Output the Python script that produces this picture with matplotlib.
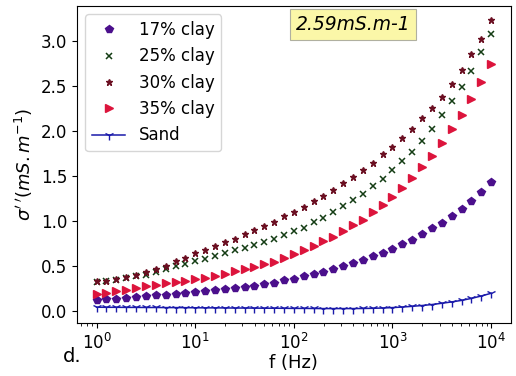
import numpy as np
import matplotlib
matplotlib.use("Agg")
import matplotlib.pyplot as plt

freq_exp_min, freq_exp_max, n_pts = 0, 4, 41
f = np.logspace(freq_exp_min, freq_exp_max, n_pts)

clay17 = [0.115, 0.123, 0.134, 0.141, 0.149, 0.162, 0.169, 0.177, 0.186, 0.193, 0.203,
          0.22, 0.23, 0.241, 0.253, 0.262, 0.271, 0.29, 0.305, 0.335, 0.355, 0.383,
          0.409, 0.431, 0.461, 0.492, 0.528, 0.56, 0.602, 0.643, 0.686, 0.736,
          0.788, 0.848, 0.913, 0.979, 1.052, 1.13, 1.219, 1.317, 1.428]
clay25 = [0.32, 0.33, 0.345, 0.36, 0.38, 0.40, 0.43, 0.46, 0.495, 0.52, 0.55,
          0.578, 0.605, 0.639, 0.668, 0.697, 0.729, 0.764, 0.792, 0.838, 0.881,
          0.922, 0.981, 1.033, 1.093, 1.16, 1.229, 1.301, 1.383, 1.468, 1.561,
          1.662, 1.766, 1.888, 2.015, 2.169, 2.328, 2.483, 2.669, 2.87, 3.078]
clay30 = [0.327, 0.334, 0.35, 0.37, 0.40, 0.43, 0.46, 0.50, 0.55, 0.587, 0.635,
          0.669, 0.714, 0.757, 0.801, 0.848, 0.892, 0.942, 0.99, 1.048, 1.095,
          1.152, 1.219, 1.279, 1.346, 1.413, 1.484, 1.561, 1.645, 1.736, 1.822,
          1.914, 2.019, 2.14, 2.253, 2.379, 2.52, 2.676, 2.855, 3.019, 3.226]
clay35 = [0.186, 0.197, 0.215, 0.230, 0.249, 0.268, 0.283, 0.301, 0.312, 0.327, 0.346,
          0.360, 0.379, 0.409, 0.435, 0.457, 0.483, 0.513, 0.543, 0.587, 0.632, 0.677,
          0.718, 0.773, 0.822, 0.88, 0.946, 1.011, 1.093, 1.173, 1.267, 1.364,
          1.47, 1.595, 1.72, 1.859, 2.015, 2.175, 2.352, 2.546, 2.74]
sand = [0.037, 0.036, 0.036, 0.035, 0.035, 0.034, 0.034, 0.033, 0.033, 0.032,
        0.031, 0.030, 0.030, 0.029, 0.028, 0.028, 0.027, 0.026, 0.026, 0.025,
        0.024, 0.024, 0.023, 0.022, 0.022, 0.022, 0.022, 0.023, 0.025, 0.028,
        0.033, 0.039, 0.047, 0.056, 0.067, 0.081, 0.096, 0.113, 0.135, 0.162, 0.192]

labels = ["17% clay", "25% clay", "30% clay", "35% clay", "Sand"]
annotation = "2.59mS.m-1"

fig = plt.figure(figsize=(5.16, 3.76), dpi=100)
ax = fig.add_axes([0.149, 0.141, 0.841, 0.843])

ax.plot(f, clay17, linestyle='none', marker='p', markersize=5.5, color='#4b0f8c', label=labels[0])
ax.plot(f, clay25, linestyle='none', marker='x', markersize=4, markeredgewidth=1.1, color='#143c14', label=labels[1])
ax.plot(f, clay30, linestyle='none', marker='*', markersize=5, color='#6b0f22', label=labels[2])
ax.plot(f, clay35, linestyle='none', marker='>', markersize=5.5, color='#dc143c', label=labels[3])
ax.plot(f, sand, linestyle='-', linewidth=1.1, marker='1', markersize=7, color='#1a1aaa', label=labels[4])

ax.set_xscale('log')
ax.set_xlabel('f (Hz)', fontsize=13, labelpad=1)
ax.set_ylabel(r"$\sigma'\,'(mS.m^{-1})$", fontsize=13)
ax.tick_params(axis='both', labelsize=12)
ax.set_yticks([0.0, 0.5, 1.0, 1.5, 2.0, 2.5, 3.0])

ax.legend(loc='upper left', fontsize=12)
ax.text(0.636, 0.942, annotation, transform=ax.transAxes, fontsize=13.5, style='italic',
        ha='center', va='center',
        bbox=dict(boxstyle='square,pad=0.3', facecolor='#fbf7a8', edgecolor='#b0b0a0', linewidth=0.8))

fig.text(63/516, 14/376, 'd.', fontsize=14)

fig.savefig('out.png', dpi=100)
